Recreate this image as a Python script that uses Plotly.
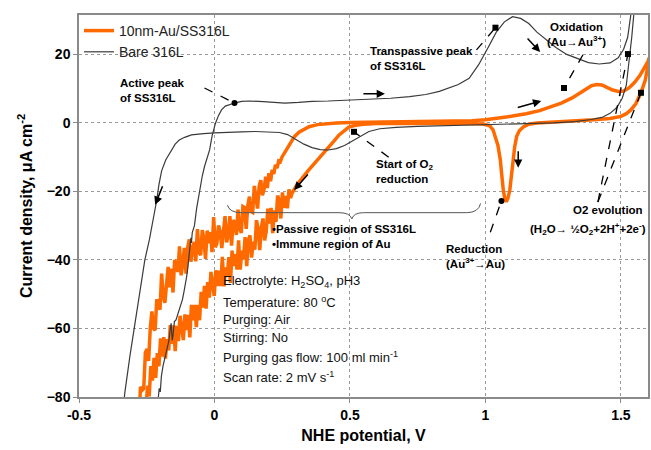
import plotly.graph_objects as go

# ---------------- data ----------------
# Bare 316L forward scan
bare_fwd_v = [-0.212, -0.208, -0.204, -0.200, -0.196, -0.190, -0.186, -0.180, -0.172, -0.168, -0.163,
              -0.160, -0.158, -0.156, -0.153, -0.148, -0.142, -0.136, -0.130, -0.125, -0.118, -0.112,
              -0.106, -0.103, -0.098, -0.094, -0.092, -0.090, -0.087, -0.085, -0.082, -0.078, -0.074,
              -0.066, -0.055, -0.045, -0.037, -0.027, -0.018, -0.008, 0.004, 0.015, 0.026, 0.040,
              0.055, 0.074, 0.10, 0.13, 0.18, 0.22, 0.26, 0.31, 0.36, 0.42, 0.50, 0.58, 0.65, 0.72,
              0.78, 0.83, 0.87, 0.90, 0.94, 0.975, 1.01, 1.04, 1.07, 1.10, 1.13, 1.16, 1.19, 1.22,
              1.26, 1.30, 1.34, 1.38, 1.42, 1.46, 1.49, 1.51, 1.525, 1.535, 1.545, 1.555]
bare_fwd_i = [-84, -80, -77.5, -78.5, -74, -71, -69.5, -67, -65, -63.5, -60,
              -58.5, -61, -63.5, -62, -58, -57.5, -56, -54, -53, -51.5, -49,
              -46.5, -45, -42, -39, -37, -36, -33.5, -35, -32, -31, -30,
              -25, -19.6, -15.5, -12.8, -10, -7.9, -3.5, 0, 2.2, 3.8, 4.9,
              5.4, 5.8, 6.3, 6.4, 6.2, 5.9, 5.8, 6.0, 6.3, 6.4, 6.7, 6.9, 7.2, 7.7,
              8.3, 9.2, 10.3, 11.2, 13, 17, 22, 26.5, 29.5, 31, 30.5, 29, 26.5, 24.5,
              22, 20, 18.7, 17.6, 17.2, 17.5, 19, 21.5, 25, 30, 36, 42]
# Bare 316L reverse scan
bare_rev_v = [1.555, 1.548, 1.54, 1.53, 1.52, 1.505, 1.485, 1.46, 1.43, 1.39, 1.33, 1.25, 1.15, 1.05,
              0.95, 0.85, 0.75, 0.67, 0.61, 0.57, 0.54, 0.51, 0.48, 0.45, 0.42, 0.39, 0.36, 0.33, 0.30,
              0.27, 0.24, 0.20, 0.15, 0.10, 0.05, 0.0, -0.04, -0.085, -0.11, -0.13, -0.145, -0.158,
              -0.17, -0.18, -0.195, -0.205, -0.213, -0.225, -0.24, -0.257, -0.275, -0.294, -0.312,
              -0.331, -0.336]
bare_rev_i = [42, 32, 25, 17, 11, 7.2, 4.5, 2.8, 1.6, 1.0, 0.4, 0.0, -0.2, -0.3,
              -0.5, -0.7, -1.0, -1.3, -1.7, -2.5, -3.8, -5.2, -6.6, -7.5, -7.9, -7.8, -7.2, -6.2, -4.8,
              -3.4, -2.8, -2.6, -2.5, -2.6, -2.7, -2.9, -3.1, -3.5, -4.2, -5.0, -6.2, -7.9,
              -9.3, -10.8, -14, -18, -22.5, -28, -34, -40, -49, -58.4, -68,
              -78.8, -83]

# 10nm-Au/SS316L forward scan
au_fwd_v = [-0.285, -0.279, -0.273, -0.267, -0.261, -0.255, -0.249, -0.243, -0.237, -0.231, -0.225,
            -0.219, -0.213, -0.207, -0.201, -0.195, -0.189, -0.183, -0.177, -0.171, -0.165, -0.159,
            -0.153, -0.147, -0.141, -0.135, -0.129, -0.123, -0.117, -0.111, -0.105, -0.099, -0.093,
            -0.087, -0.081, -0.075, -0.069, -0.063, -0.057, -0.051, -0.045, -0.039, -0.033, -0.027,
            -0.021, -0.015, -0.009, -0.003, 0.003, 0.009, 0.015, 0.021, 0.027, 0.033, 0.039, 0.045,
            0.051, 0.057, 0.063, 0.069, 0.075, 0.081, 0.087, 0.093, 0.099, 0.105, 0.111, 0.117,
            0.123, 0.129, 0.135, 0.141, 0.147, 0.153, 0.159, 0.165, 0.171, 0.177, 0.183, 0.189,
            0.195, 0.201, 0.207, 0.213, 0.219, 0.225, 0.231, 0.237, 0.243, 0.249, 0.257, 0.265,
            0.280, 0.295, 0.312, 0.330, 0.349, 0.38, 0.42, 0.45, 0.50, 0.60, 0.70, 0.80, 0.90,
            0.95, 1.00, 1.05, 1.10, 1.15, 1.20, 1.24, 1.28, 1.32, 1.35, 1.37, 1.39, 1.41, 1.43,
            1.45, 1.47, 1.49, 1.51, 1.53, 1.55, 1.57, 1.585, 1.60, 1.605]
au_fwd_i = [-84, -87, -77, -78, -77.5, -67, -66, -69.5, -60, -55, -60,
            -60.5, -51.5, -53, -54.5, -44, -50.5, -52.5, -46, -42, -48, -42.5,
            -49.5, -40, -41.5, -43.5, -36, -44.5, -41, -36.5, -44, -36.5, -34,
            -40.5, -37, -34.7, -40.4, -31, -37.8, -38.6, -31.3, -34, -39.7, -31.4,
            -35.1, -31.9, -37.7, -27.5, -36.3, -35.1, -29.9, -31.7, -36.5, -30.4, -27.2, -34.9,
            -32.6, -27.2, -35.8, -28.4, -29.1, -32.7, -25.3, -30.9, -32.1, -24.4, -24.7, -30.9,
            -24.2, -21.5, -25.8, -26.1, -18.4, -21.7, -25, -18.4, -16.7, -21.1, -19.4, -15.7,
            -19, -14.7, -17, -13.7, -14.9, -12.2, -13.2, -11.1, -11.3, -10, -9.0, -7.9,
            -5.7, -4.0, -2.7, -1.8, -1.1, -0.5, -0.1, 0.0, 0.1, 0.2, 0.3, 0.4, 0.5,
            0.6, 0.9, 1.4, 2.0, 2.7, 3.6, 4.7, 5.8, 7.3, 8.8, 9.8, 10.8, 11.2, 11.1,
            10.3, 9.6, 9.2, 9.3, 10.2, 11.8, 13.8, 15.8, 18, 19]
# 10nm-Au/SS316L reverse scan
au_rev_v = [1.605, 1.59, 1.574, 1.555, 1.537, 1.52, 1.50, 1.46, 1.40, 1.32, 1.24, 1.19, 1.16, 1.14,
            1.125, 1.115, 1.108, 1.103, 1.098, 1.09, 1.083, 1.077, 1.071, 1.066, 1.06, 1.055, 1.046,
            1.037, 1.028, 1.015, 0.99, 0.9, 0.8, 0.7, 0.6, 0.55, 0.52, 0.496, 0.478, 0.46, 0.44, 0.412,
            0.39, 0.368, 0.345, 0.324, 0.305, 0.287,
            0.281, 0.275, 0.269, 0.263, 0.257, 0.251, 0.245, 0.239, 0.233, 0.227, 0.221, 0.215,
            0.209, 0.203, 0.197, 0.191, 0.185, 0.179, 0.173, 0.167, 0.161, 0.155, 0.149, 0.143,
            0.137, 0.131, 0.125, 0.119, 0.113, 0.107, 0.101, 0.095, 0.089, 0.083, 0.077, 0.071,
            0.065, 0.059, 0.053, 0.047, 0.041, 0.035, 0.029, 0.023, 0.017, 0.011, 0.005, -0.001,
            -0.007, -0.013, -0.019, -0.025, -0.031, -0.037, -0.043, -0.049, -0.055, -0.061, -0.067,
            -0.073, -0.079, -0.085, -0.091, -0.097, -0.103, -0.109, -0.115, -0.121, -0.127, -0.133,
            -0.139, -0.145, -0.151, -0.157, -0.163, -0.169, -0.175, -0.181, -0.187, -0.193, -0.199,
            -0.205, -0.211, -0.217, -0.223, -0.229, -0.235, -0.241, -0.247, -0.253, -0.259, -0.265]
au_rev_i = [19, 12.5, 8.8, 5.6, 3.8, 2.7, 1.9, 1.3, 0.9, 0.6, 0.3, 0.0, -0.4, -1.2,
            -2.3, -4, -7, -10.8, -15, -19.6, -22, -23, -22, -19.6, -15, -10.8, -6.5,
            -4, -2, -0.8, -0.3, -0.1, -0.1, -0.1, -0.2, -0.4, -0.7, -1.2, -2.2, -3.5, -5.4, -7.9,
            -9.8, -11.7, -14, -16.1, -18, -20.4,
            -21.9, -19.4, -24.9, -21.3, -24.8, -20.3, -27.9, -22.6, -21.2, -28.9, -25.5, -32.2,
            -24.8, -29.4, -25, -31.7, -34.3, -27.9, -30.5, -37.1, -30.8, -28.4, -37, -34.7,
            -39.3, -32.8, -34.3, -41.8, -33.3, -39.8, -37.3, -42.8, -34.3, -42.8, -38.3, -41.8,
            -37.3, -46.7, -39.2, -44.7, -42.2, -47.7, -39.1, -47.6, -43.1, -47.6, -43, -50.5,
            -46, -43.5, -51, -46.5, -54.2, -47.6, -53.9, -49.3, -57.6, -53.1, -59.6,
            -53.1, -57.6, -53.1, -62.6, -56, -60.5, -55.9, -63.4, -58.8, -56.3, -63.7,
            -59.2, -66.6, -59.1, -64.5, -59, -66.4, -63.1, -68.8, -62.5, -68.2, -62.9,
            -71, -67.2, -74.4, -68.6, -75.2, -71, -79.8, -76.7, -83.7, -81.7, -86]

x_ticks = [-0.5, 0, 0.5, 1, 1.5]
x_tick_labels = ["-0.5", "0", "0.5", "1", "1.5"]
y_ticks = [-80, -60, -40, -20, 0, 20]

ORANGE = "#FF6A00"
DARK = "#3a3a3a"
FONT = "Arial, 'Liberation Sans', sans-serif"

fig = go.Figure()
fig.add_trace(go.Scatter(x=au_fwd_v, y=au_fwd_i, mode="lines", name="10nm-Au/SS316L",
                         line=dict(color=ORANGE, width=3.5), legendgroup="au"))
fig.add_trace(go.Scatter(x=au_rev_v, y=au_rev_i, mode="lines", name="10nm-Au/SS316L",
                         line=dict(color=ORANGE, width=3.5), legendgroup="au", showlegend=False))
fig.add_trace(go.Scatter(x=bare_fwd_v, y=bare_fwd_i, mode="lines", name="Bare 316L",
                         line=dict(color=DARK, width=1.2), legendgroup="bare"))
fig.add_trace(go.Scatter(x=bare_rev_v, y=bare_rev_i, mode="lines", name="Bare 316L",
                         line=dict(color=DARK, width=1.2), legendgroup="bare", showlegend=False))

# ---------------- annotation leaders ----------------
leaders = [  # (x0, y0, x1, y1, marker_symbol)
    (-0.037, 10.2, 0.074, 5.8, "circle"),
    (0.967, 21.3, 1.037, 27.8, "square"),
    (1.36, 19.9, 1.29, 10.2, "square"),
    (0.643, -10.0, 0.515, -2.6, "square"),
    (1.018, -31.9, 1.059, -22.8, "circle"),
    (1.415, -23.1, 1.526, 20.1, "square"),
    (1.415, -23.1, 1.574, 8.8, "square"),
]
for x0, y0, x1, y1, sym in leaders:
    fig.add_shape(type="line", x0=x0, y0=y0, x1=x1, y1=y1, xref="x", yref="y",
                  line=dict(color="black", width=1.3, dash="dash"))
fig.add_trace(go.Scatter(x=[l[2] for l in leaders], y=[l[3] for l in leaders], mode="markers",
                         marker=dict(color="black", size=6, symbol=[l[4] for l in leaders]),
                         showlegend=False, hoverinfo="skip"))

# brace under passive region
fig.add_shape(type="path", xref="x", yref="y",
              path="M 0.048,-24 Q 0.055,-26.2 0.10,-26.2 L 0.46,-26.2 Q 0.50,-26.2 0.507,-28 "
                   "Q 0.514,-26.2 0.55,-26.2 L 0.93,-26.2 Q 0.975,-26.2 0.982,-23.5",
              line=dict(color="#555555", width=1))

# ---------------- arrows ----------------
arrows = [  # head x, head y, ax px, ay px
    (-0.219, -23.9, 8, -20),
    (0.629, 8.5, -23, 0),
    (1.202, 20.7, -14, -15),
    (1.206, 6.4, -25, 7),
    (1.121, -13.1, 0, -18),
    (0.294, -19.6, 15, -17),
]
annotations = []
for hx, hy, ax, ay in arrows:
    annotations.append(dict(x=hx, y=hy, xref="x", yref="y", ax=ax, ay=ay, text="",
                            showarrow=True, arrowhead=2, arrowsize=1.1, arrowwidth=1.5,
                            arrowcolor="black"))

bold_labels = [  # x, y, text, xanchor
    (-0.357, 9.6, "<b>Active peak<br>of SS316L</b>", "left"),
    (0.566, 18.7, "<b>Transpassive peak<br>of SS316L</b>", "left"),
    (1.335, 25.7, "<b>Oxidation<br>(Au→Au<sup>3+</sup>)</b>", "center"),
    (0.588, -14.3, "<b>Start of O<sub>2</sub><br>reduction</b>", "left"),
    (0.205, -33.1, "<b>•Passive region of SS316L<br>•Immune region of Au</b>", "left"),
    (0.846, -39.0, "<b>Reduction<br>(Au<sup>3+</sup>→Au)</b>", "left"),
    (1.316, -25.4, "<b>O2 evolution</b>", "left"),
    (1.158, -30.9, "<b>(H<sub>2</sub>O→ ½O<sub>2</sub>+2H<sup>+</sup>+2e<sup>-</sup>)</b>", "left"),
]
for x, y, t, xa in bold_labels:
    annotations.append(dict(x=x, y=y, xref="x", yref="y", text=t, showarrow=False,
                            xanchor=xa, yanchor="middle", align=xa,
                            font=dict(family=FONT, size=11.5, color="black")))

conditions = [
    "Electrolyte: H<sub>2</sub>SO<sub>4</sub>, pH3",
    "Temperature: 80 <sup>o</sup>C",
    "Purging: Air",
    "Stirring: No",
    "Purging gas flow: 100 ml min<sup>-1</sup>",
    "Scan rate: 2 mV s<sup>-1</sup>",
]
cond_y = [-46.4, -52.3, -57.5, -62.5, -68.3, -74.2]
for t, y in zip(conditions, cond_y):
    annotations.append(dict(x=0.025, y=y, xref="x", yref="y", text=t, showarrow=False,
                            xanchor="left", yanchor="middle",
                            font=dict(family=FONT, size=13, color="#111111")))

axis_common = dict(showline=True, mirror=True, linecolor="#8a8a8a", linewidth=1.5,
                   showgrid=True, gridcolor="#9a9a9a", griddash="dot", gridwidth=1,
                   zeroline=False, ticks="outside", ticklen=4, tickcolor="#8a8a8a",
                   tickfont=dict(family=FONT, size=14, color="black", weight="bold"))

fig.update_layout(
    width=651, height=450,
    margin=dict(l=79, r=1, t=15, b=53),
    plot_bgcolor="white", paper_bgcolor="white",
    font=dict(family=FONT, color="black"),
    showlegend=True,
    legend=dict(x=0.0, y=1.0, xanchor="left", yanchor="top", bgcolor="rgba(0,0,0,0)",
                font=dict(family=FONT, size=14, color="#222222"), tracegroupgap=0,
                itemwidth=30),
    annotations=annotations,
    xaxis=dict(range=[-0.5, 1.6], tickvals=x_ticks, ticktext=x_tick_labels,
               title=dict(text="<b>NHE potential, V</b>", font=dict(family=FONT, size=16), standoff=8),
               **axis_common),
    yaxis=dict(range=[-80, 31.5], tickvals=y_ticks,
               title=dict(text="<b>Current density, μA cm<sup>-2</sup></b>", font=dict(family=FONT, size=16),
                          standoff=10),
               **axis_common),
)

fig.write_html("out.html")
